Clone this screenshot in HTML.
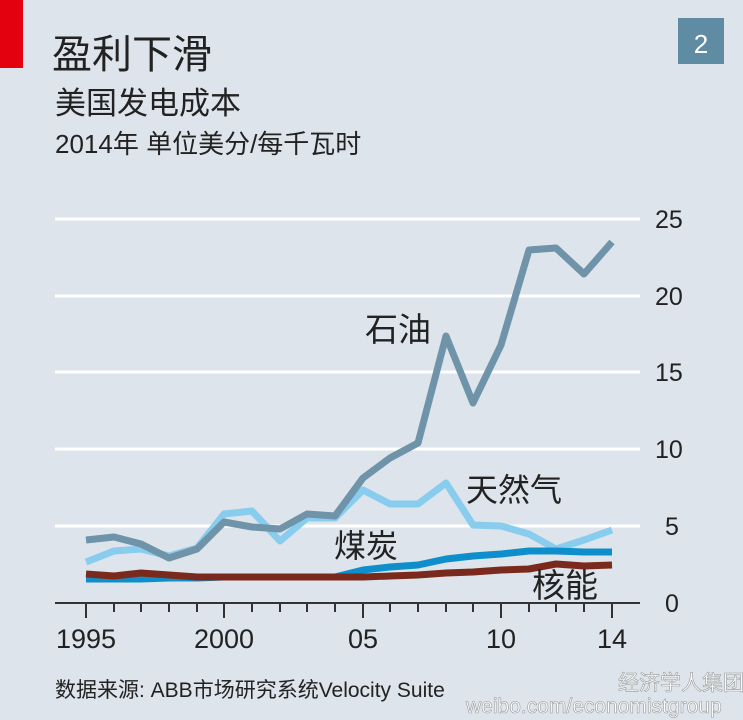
<!DOCTYPE html>
<html><head><meta charset="utf-8"><style>
body{margin:0;width:743px;height:720px;background:#dde4eb;overflow:hidden;font-family:"Liberation Sans","Noto Sans CJK SC",sans-serif;color:#222}
</style></head><body>
<svg width="743" height="720" xmlns="http://www.w3.org/2000/svg" style="position:absolute;left:0;top:0">
<rect x="0" y="0" width="743" height="720" fill="#dde4eb"/>
<rect x="0" y="0" width="23" height="68" fill="#e3000f"/>
<rect x="678" y="18" width="46" height="46" fill="#5f8ba3"/>
<text x="701" y="53" font-size="26" fill="#fff" text-anchor="middle" font-family="Liberation Sans, sans-serif">2</text>
<g font-family="Liberation Sans, Noto Sans CJK SC, sans-serif" fill="#222">
<text x="52" y="68" font-size="40">盈利下滑</text>
<text x="55" y="114" font-size="31">美国发电成本</text>
<text x="55" y="153" font-size="26">2014年 单位美分/每千瓦时</text>
</g>
<g stroke="#fff" stroke-width="3">
<line x1="55" y1="219" x2="640" y2="219"/><line x1="55" y1="296" x2="640" y2="296"/>
<line x1="55" y1="372" x2="640" y2="372"/><line x1="55" y1="449" x2="640" y2="449"/>
<line x1="55" y1="526" x2="640" y2="526"/>
</g>
<g font-family="Liberation Sans, sans-serif" font-size="25" fill="#222">
<text x="655" y="228">25</text><text x="655" y="305">20</text><text x="655" y="381">15</text>
<text x="655" y="458">10</text><text x="665" y="535">5</text><text x="665" y="612">0</text>
</g>
<g fill="none" stroke-linejoin="round" stroke-width="7">
<polyline stroke="#88ccee" points="86,562 114,551 141,549 169,556 197,548 224,514 252,511 280,541 307,518 335,518 363,490 390,504 418,504 446,483 473,525 501,526 529,534 556,549 584,540 612,530"/>
<polyline stroke="#6f93a8" points="86,540 114,537 141,544 169,558 197,549 224,522 252,527 280,529 307,514 335,516 363,478 390,458 418,443 446,336 473,403 501,345 529,250 556,248 584,274 612,242"/>
<polyline stroke="#0e8fcc" points="86,579 114,579 141,579 169,578 197,578 224,577 252,577 280,577 307,577 335,577 363,570 390,567 418,565 446,559 473,556 501,554 529,551 556,551 584,552 612,552"/>
<polyline stroke="#7a2a1c" points="86,574 114,576 141,573 169,575 197,577 224,577 252,577 280,577 307,577 335,577 363,577 390,576 418,575 446,573 473,572 501,570 529,569 556,564 584,566 612,565"/>
</g>
<line x1="55" y1="603" x2="640" y2="603" stroke="#333" stroke-width="2"/>
<g stroke="#333" stroke-width="2">
<line x1="86" y1="603" x2="86" y2="618"/><line x1="114" y1="603" x2="114" y2="612"/><line x1="141" y1="603" x2="141" y2="612"/><line x1="169" y1="603" x2="169" y2="612"/><line x1="197" y1="603" x2="197" y2="612"/>
<line x1="224" y1="603" x2="224" y2="618"/><line x1="252" y1="603" x2="252" y2="612"/><line x1="280" y1="603" x2="280" y2="612"/><line x1="307" y1="603" x2="307" y2="612"/><line x1="335" y1="603" x2="335" y2="612"/>
<line x1="363" y1="603" x2="363" y2="618"/><line x1="390" y1="603" x2="390" y2="612"/><line x1="418" y1="603" x2="418" y2="612"/><line x1="446" y1="603" x2="446" y2="612"/><line x1="473" y1="603" x2="473" y2="612"/>
<line x1="501" y1="603" x2="501" y2="618"/><line x1="529" y1="603" x2="529" y2="612"/><line x1="556" y1="603" x2="556" y2="612"/><line x1="584" y1="603" x2="584" y2="612"/><line x1="612" y1="603" x2="612" y2="618"/>
</g>
<g font-family="Liberation Sans, sans-serif" font-size="27" fill="#222" text-anchor="middle">
<text x="86" y="648">1995</text><text x="224" y="648">2000</text><text x="363" y="648">05</text><text x="501" y="648">10</text><text x="612" y="648">14</text>
</g>
<g font-family="Liberation Sans, Noto Sans CJK SC, sans-serif" fill="#222">
<text x="365" y="341" font-size="33">石油</text>
<text x="466" y="501" font-size="32">天然气</text>
<text x="334" y="557" font-size="32">煤炭</text>
<text x="532" y="597" font-size="33">核能</text>
<text x="55" y="697" font-size="21">数据来源: ABB市场研究系统Velocity Suite</text>
</g>
<text x="466" y="713" font-family="Liberation Sans, sans-serif" font-size="21" fill="#fff" stroke="#999" stroke-width="0.6">weibo.com/economistgroup</text>
<text x="618" y="690" font-family="Liberation Sans, Noto Sans CJK SC, sans-serif" font-size="21" fill="#fff" stroke="#999" stroke-width="0.6">经济学人集团</text>
</svg>
</body></html>
